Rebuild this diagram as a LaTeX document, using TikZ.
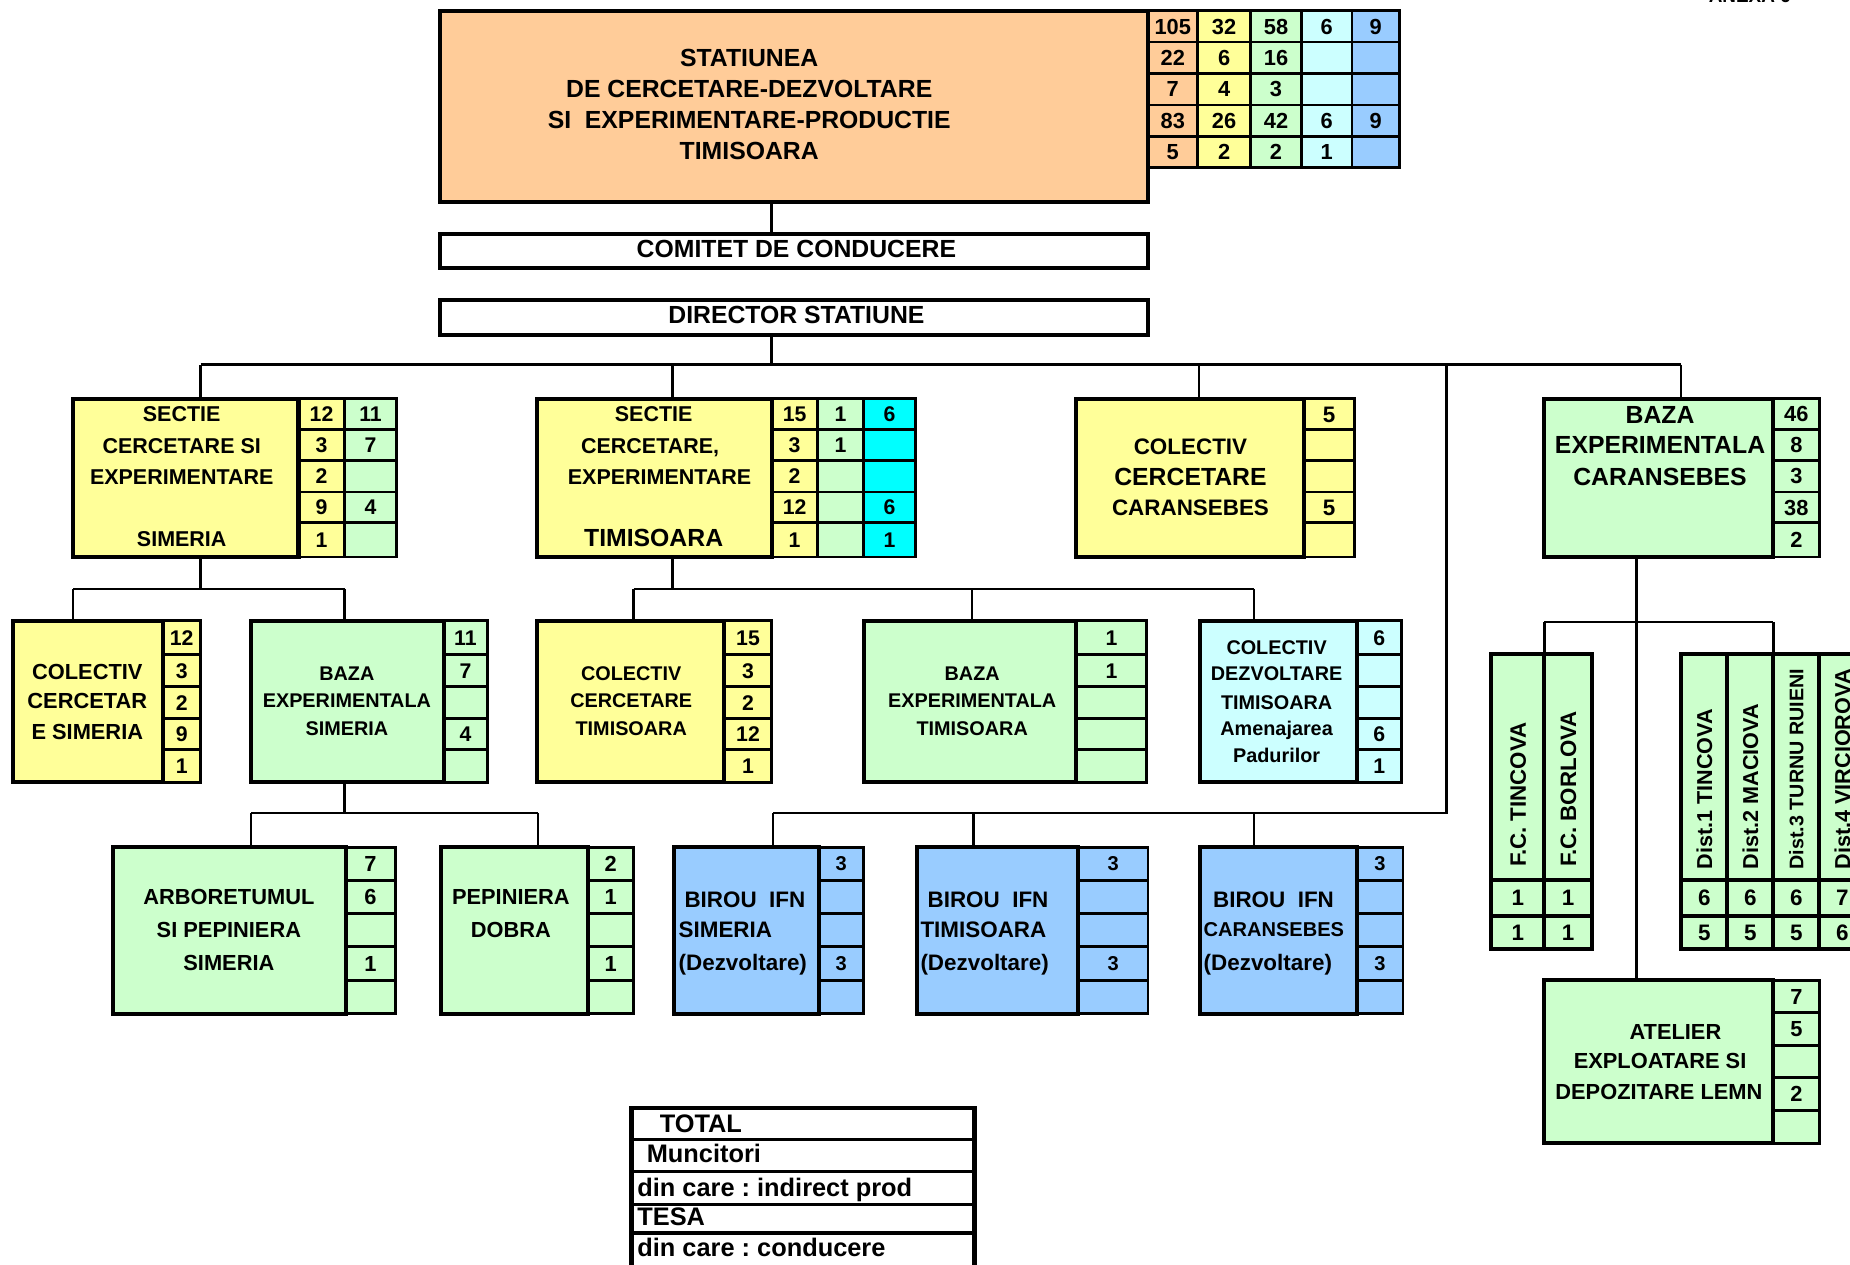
\documentclass[tikz,border=0pt]{standalone}
\usepackage{fontspec}
\setmainfont{Liberation Sans}
\frenchspacing
\definecolor{cOr}{HTML}{FFCC99}
\definecolor{cYe}{HTML}{FFFF99}
\definecolor{cGr}{HTML}{CCFFCC}
\definecolor{cLc}{HTML}{CCFFFF}
\definecolor{cBl}{HTML}{99CCFF}
\definecolor{cCy}{HTML}{00FFFF}
\newcounter{tn}
\newcommand\fs[1]{\fontsize{#1}{#1}\selectfont\bfseries}
\newcommand\bx[6]{\node[boxn,fill=#6,minimum width={(#3-#1)*1pt},minimum height={(#4-#2)*1pt}] (#5) at (#1,#2) {};}
\newcommand\tx[4][]{\stepcounter{tn}\node[txt,#1] (t\arabic{tn}) at (#2,#3) {#4};}
\newcommand\tcol[7]{\foreach \cv [count=\k] in {#6}{\pgfmathsetmacro\ya{{#5}[\k-1]}\pgfmathsetmacro\yb{{#5}[\k]}\node[celln,fill=#4,fsz=#7,minimum width={(#3-#2)*1pt},minimum height={(\yb-\ya)*1pt}] (#1-\k) at (#2,\ya) {\cv};}}
\begin{document}
\begin{tikzpicture}[x=1pt,y=-1pt,
  fsz/.style={font=\fs{#1},text height={0.716*#1pt},text depth=0pt},
  boxn/.style={draw,line width=3.4pt,outer sep=0pt,inner sep=0pt,anchor=north west},
  celln/.style={draw,line width=2.3pt,outer sep=0pt,inner sep=0pt,anchor=north west},
  conn/.style={line width=2pt},
  txt/.style={inner sep=0pt},
  f21/.style={fsz=21},
  f19/.style={fsz=19},
  f18/.style={fsz=18.2},
  f17/.style={fsz=16.8}]
\useasboundingbox (0,0) rectangle (1568,1072);
\clip (0,0) rectangle (1568,1072);
\fill[white] (0,0) rectangle (1568,1072);

\tx[anchor=base,font=\fs{16}]{1483}{2.5}{ANEXA 6}

% ---------- main ----------
\tcol{m1}{973}{1015}{cOr}{9,35.5,62,89,115.5,142}{105,22,7,83,5}{18.5}
\tcol{m2}{1015}{1060}{cYe}{9,35.5,62,89,115.5,142}{32,6,4,26,2}{18.5}
\tcol{m3}{1060}{1103}{cGr}{9,35.5,62,89,115.5,142}{58,16,3,42,2}{18.5}
\tcol{m4}{1103}{1146}{cLc}{9,35.5,62,89,115.5,142}{6,{},{},6,1}{18.5}
\tcol{m5}{1146}{1186}{cBl}{9,35.5,62,89,115.5,142}{9,{},{},9,{}}{18.5}
\bx{373}{9}{973}{171}{main}{cOr}
\tx[f21]{635}{48.6}{STATIUNEA}
\tx[f21]{635}{75}{DE CERCETARE-DEZVOLTARE}
\tx[f21]{635}{101}{SI\ \ EXPERIMENTARE-PRODUCTIE}
\tx[f21]{635}{128}{TIMISOARA}

\bx{373}{198}{973}{227.5}{comitet}{white}
\tx[f21]{675}{210.5}{COMITET DE CONDUCERE}
\bx{373}{254}{973}{284}{director}{white}
\tx[f21]{675}{267}{DIRECTOR STATIUNE}

% ---------- level 2 ----------
\tcol{sS1}{253}{292}{cYe}{338,364,390,417,443,472}{12,3,2,9,1}{18}
\tcol{sS2}{292}{336}{cGr}{338,364,390,417,443,472}{11,7,{},4,{}}{18}
\bx{62}{338}{253}{472}{secS}{cYe}
\tx[f18]{154}{351}{SECTIE}
\tx[f18]{154}{378}{CERCETARE SI}
\tx[f18]{154}{404}{EXPERIMENTARE}
\tx[f18]{154}{457}{SIMERIA}

\tcol{sT1}{654}{693}{cYe}{338,364,390,417,443,472}{15,3,2,12,1}{18}
\tcol{sT2}{693}{732}{cGr}{338,364,390,417,443,472}{1,1,{},{},{}}{18}
\tcol{sT3}{732}{776}{cCy}{338,364,390,417,443,472}{6,{},{},6,1}{18}
\bx{455}{338}{654}{472}{secT}{cYe}
\tx[f18]{554}{351}{SECTIE}
\tx[f18]{551}{378}{CERCETARE,}
\tx[f18]{559}{404}{EXPERIMENTARE}
\tx[f21]{554}{456}{TIMISOARA}

\tcol{cC1}{1105}{1148}{cYe}{338,364,390,417,443,472}{5,{},{},5,{}}{19}
\bx{912}{338}{1105}{472}{colCar}{cYe}
\tx[f19]{1009}{378}{COLECTIV}
\tx[f21]{1009}{404}{CERCETARE}
\tx[f19]{1009}{430}{CARANSEBES}

\tcol{bC1}{1503}{1542}{cGr}{338,364,390,417,443,472}{46,8,3,38,2}{18.5}
\bx{1309}{338}{1503}{472}{bazaCar}{cGr}
\tx[f21]{1407}{351}{BAZA}
\tx[f21]{1407}{377}{EXPERIMENTALA}
\tx[f21]{1407}{404}{CARANSEBES}

% ---------- level 3 ----------
\tcol{cS1}{138}{170}{cYe}{526,555,582,609,635,663}{12,3,2,9,1}{18}
\bx{11}{526}{138}{663}{colS}{cYe}
\tx[fsz=18.5]{74}{569}{COLECTIV}
\tx[fsz=18.5]{74}{594}{CERCETAR}
\tx[fsz=18.5]{74}{620}{E SIMERIA}

\tcol{bS1}{376}{413}{cGr}{526,555,582,609,635,663}{11,7,{},4,{}}{18}
\bx{213}{526}{376}{663}{bazaS}{cGr}
\tx[f17]{294}{571}{BAZA}
\tx[f17]{294}{594}{EXPERIMENTALA}
\tx[f17]{294}{617}{SIMERIA}

\tcol{cT1}{614}{654}{cYe}{526,555,582,609,635,663}{15,3,2,12,1}{18}
\bx{455}{526}{614}{663}{colT}{cYe}
\tx[f17]{535}{571}{COLECTIV}
\tx[f17]{535}{594}{CERCETARE}
\tx[f17]{535}{617}{TIMISOARA}

\tcol{bT1}{912}{972}{cGr}{526,555,582,609,635,663}{1,1,{},{},{}}{18}
\bx{732}{526}{912}{663}{bazaT}{cGr}
\tx[f17]{824}{571}{BAZA}
\tx[f17]{824}{594}{EXPERIMENTALA}
\tx[f17]{824}{617}{TIMISOARA}

\tcol{cD1}{1150}{1188}{cLc}{526,555,582,609,635,663}{6,{},{},6,1}{18}
\bx{1017}{526}{1150}{663}{colD}{cLc}
\tx[f17]{1082}{549}{COLECTIV}
\tx[f17]{1082}{571}{DEZVOLTARE}
\tx[f17]{1082}{595}{TIMISOARA}
\tx[f17]{1082}{617}{Amenajarea}
\tx[f17]{1082}{640}{Padurilor}

% ---------- level 4 ----------
\tcol{aS1}{293}{335}{cGr}{718,746,774,802,831,859}{7,6,{},1,{}}{18.5}
\bx{96}{718}{293}{859}{arb}{cGr}
\tx[fsz=18.5]{194}{760}{ARBORETUMUL}
\tx[fsz=18.5]{194}{788}{SI PEPINIERA}
\tx[fsz=18.5]{194}{816}{SIMERIA}

\tcol{pD1}{498}{537}{cGr}{718,746,774,802,831,859}{2,1,{},1,{}}{18.5}
\bx{374}{718}{498}{859}{pep}{cGr}
\tx[fsz=18.5]{433}{760}{PEPINIERA}
\tx[fsz=18.5]{433}{788}{DOBRA}

\tcol{iS1}{694}{732}{cBl}{718,746,774,802,831,859}{3,{},{},3,{}}{17}
\bx{571}{718}{694}{859}{birS}{cBl}
\tx[f19,anchor=west]{575}{762}{\hspace*{5pt}BIROU\ \ IFN}
\tx[f19,anchor=west]{575}{788}{SIMERIA}
\tx[f19,anchor=west]{575}{816}{(Dezvoltare)}

\tcol{iT1}{914}{973}{cBl}{718,746,774,802,831,859}{3,{},{},3,{}}{17}
\bx{777}{718}{914}{859}{birT}{cBl}
\tx[f19,anchor=west]{780}{762}{\hspace*{6pt}BIROU\ \ IFN}
\tx[f19,anchor=west]{780}{788}{TIMISOARA}
\tx[f19,anchor=west]{780}{816}{(Dezvoltare)}

\tcol{iC1}{1150}{1189}{cBl}{718,746,774,802,831,859}{3,{},{},3,{}}{17}
\bx{1017}{718}{1150}{859}{birC}{cBl}
\tx[f19,anchor=west]{1020}{762}{\hspace*{8pt}BIROU\ \ IFN}
\tx[fsz=17,anchor=west]{1020}{788}{CARANSEBES}
\tx[f19,anchor=west]{1020}{816}{(Dezvoltare)}

% ---------- Caransebes branch ----------
\begin{scope}[celln/.append style={line width=3.4pt}]
\bx{1264}{554}{1309}{746}{fcA}{cGr}
\bx{1309}{554}{1349}{746}{fcB}{cGr}
\tcol{fcAv}{1264}{1309}{cGr}{746,776,804}{1,1}{19}
\tcol{fcBv}{1309}{1349}{cGr}{746,776,804}{1,1}{19}
\bx{1264}{554}{1349}{804}{fc}{none}
\tx[rotate=90,anchor=west,fsz=18.9]{1286.5}{735}{F.C. TINCOVA}
\tx[rotate=90,anchor=west,fsz=18.9]{1329}{735}{F.C. BORLOVA}

\bx{1425}{554}{1464}{746}{dA}{cGr}
\bx{1464}{554}{1503}{746}{dB}{cGr}
\bx{1503}{554}{1542}{746}{dC}{cGr}
\bx{1542}{554}{1581}{746}{dD}{cGr}
\tcol{dAv}{1425}{1464}{cGr}{746,776,804}{6,5}{19}
\tcol{dBv}{1464}{1503}{cGr}{746,776,804}{6,5}{19}
\tcol{dCv}{1503}{1542}{cGr}{746,776,804}{6,5}{19}
\tcol{dDv}{1542}{1581}{cGr}{746,776,804}{7,6}{19}
\bx{1425}{554}{1581}{804}{dist}{none}
\tx[rotate=90,anchor=west,fsz=18.3]{1444.5}{737}{Dist.1 TINCOVA}
\tx[rotate=90,anchor=west,fsz=18.3]{1483.5}{737}{Dist.2 MACIOVA}
\tx[rotate=90,anchor=west,fsz=16.7]{1522.5}{737}{Dist.3 TURNU RUIENI}
\tx[rotate=90,anchor=west,fsz=18.3]{1561.5}{737}{Dist.4 VIRCIOROVA}
\end{scope}

\tcol{at1}{1503}{1542}{cGr}{831,858,886,913,941,969}{7,5,{},2,{}}{18.5}
\bx{1309}{831}{1503}{969}{atelier}{cGr}
\tx[fsz=18.5]{1420}{874}{ATELIER}
\tx[fsz=18.5]{1407}{899}{EXPLOATARE SI}
\tx[fsz=18.5]{1406}{925}{DEPOZITARE LEMN}

% ---------- legend ----------
\begin{scope}[celln/.append style={line width=2.8pt}]
\node[celln,fill=white,minimum width=291pt,minimum height=27pt] (lg1) at (535,939) {};
\node[celln,fill=white,minimum width=291pt,minimum height=27pt] (lg2) at (535,966) {};
\node[celln,fill=white,minimum width=291pt,minimum height=28pt] (lg3) at (535,993) {};
\node[celln,fill=white,minimum width=291pt,minimum height=24pt] (lg4) at (535,1021) {};
\node[celln,fill=white,minimum width=291pt,minimum height=40pt] (lg5) at (535,1045) {};
\end{scope}
\node[boxn,line width=4pt,fill=none,minimum width=291pt,minimum height=141pt] (legend) at (535,939) {};
\tx[fsz=21.5,anchor=west]{559}{952}{TOTAL}
\tx[fsz=21.5,anchor=west]{548}{978}{Muncitori}
\tx[fsz=21.5,anchor=west]{540}{1006}{din care : indirect prod}
\tx[fsz=21.5,anchor=west]{540}{1031}{TESA}
\tx[fsz=21.5,anchor=west]{540}{1057}{din care : conducere}

% ---------- connectors ----------
\coordinate (jA) at (654,309);
\draw[conn] (main.south -| jA) -- (comitet.north -| jA);
\draw[conn] (director.south -| jA) -- (jA);
\coordinate (b1) at (170,309);
\coordinate (b2) at (570,309);
\coordinate (b3) at (1016,309);
\coordinate (b4) at (1226,309);
\coordinate (b5) at (1425,309);
\draw[conn] (b1) -- (b5);
\draw[conn] (b1) -- (secS.north -| b1);
\draw[conn] (b2) -- (secT.north -| b2);
\draw[conn] (b3) -- (colCar.north -| b3);
\draw[conn] (b5) -- (bazaCar.north -| b5);
\coordinate (c1) at (655,689);
\coordinate (c2) at (825,689);
\coordinate (c3) at (1063,689);
\draw[conn] (b4) |- (c1);
\draw[conn] (c1) -- (birS.north -| c1);
\draw[conn] (c2) -- (birT.north -| c2);
\draw[conn] (c3) -- (birC.north -| c3);
% Simeria
\coordinate (d0) at (170,499);
\coordinate (d1) at (62,499);
\coordinate (d2) at (292,499);
\draw[conn] (secS.south -| d0) -- (d0);
\draw[conn] (d1) -- (d2);
\draw[conn] (d1) -- (colS.north -| d1);
\draw[conn] (d2) -- (bazaS.north -| d2);
% Timisoara
\coordinate (e0) at (570,499);
\coordinate (e1) at (537,499);
\coordinate (e2) at (824,499);
\coordinate (e3) at (1063,499);
\draw[conn] (secT.south -| e0) -- (e0);
\draw[conn] (e1) -- (e3);
\draw[conn] (e1) -- (colT.north -| e1);
\draw[conn] (e2) -- (bazaT.north -| e2);
\draw[conn] (e3) -- (colD.north -| e3);
% Simeria level 4
\coordinate (f0) at (292,689);
\coordinate (f1) at (213,689);
\coordinate (f2) at (456,689);
\draw[conn] (bazaS.south -| f0) -- (f0);
\draw[conn] (f1) -- (f2);
\draw[conn] (f1) -- (arb.north -| f1);
\draw[conn] (f2) -- (pep.north -| f2);
% Caransebes
\coordinate (g0) at (1387,527);
\coordinate (g1) at (1309,527);
\coordinate (g2) at (1503,527);
\draw[conn] (bazaCar.south -| g0) -- (atelier.north -| g0);
\draw[conn] (g1) -- (g2);
\draw[conn] (g1) -- (fc.north -| g1);
\draw[conn] (g2) -- (dist.north -| g2);
\end{tikzpicture}
\end{document}
